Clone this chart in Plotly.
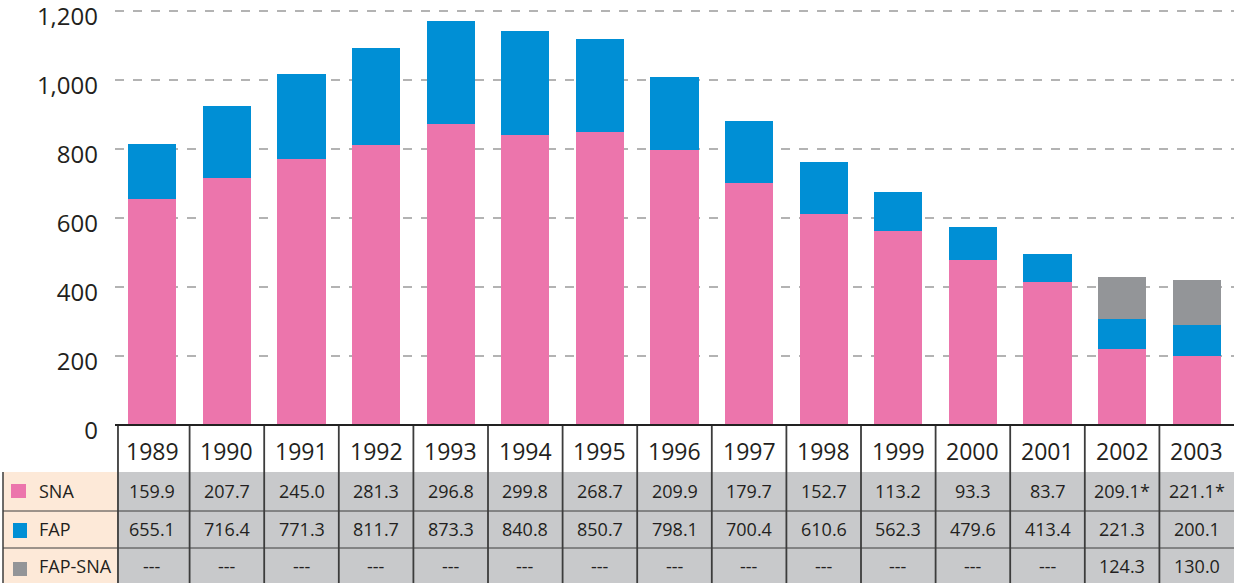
import plotly.graph_objects as go

years = ["1989", "1990", "1991", "1992", "1993", "1994", "1995", "1996",
         "1997", "1998", "1999", "2000", "2001", "2002", "2003"]
sna = [159.9, 207.7, 245.0, 281.3, 296.8, 299.8, 268.7, 209.9, 179.7, 152.7,
       113.2, 93.3, 83.7, 209.1, 221.1]
fap = [655.1, 716.4, 771.3, 811.7, 873.3, 840.8, 850.7, 798.1, 700.4, 610.6,
       562.3, 479.6, 413.4, 221.3, 200.1]
fap_sna = [None] * 13 + [124.3, 130.0]
sna_labels = ["159.9", "207.7", "245.0", "281.3", "296.8", "299.8", "268.7",
              "209.9", "179.7", "152.7", "113.2", "93.3", "83.7", "209.1*", "221.1*"]
fap_labels = ["655.1", "716.4", "771.3", "811.7", "873.3", "840.8", "850.7",
              "798.1", "700.4", "610.6", "562.3", "479.6", "413.4", "221.3", "200.1"]
fap_sna_labels = ["---"] * 13 + ["124.3", "130.0"]
row_names = ["SNA", "FAP", "FAP-SNA"]
y_ticks = [0, 200, 400, 600, 800, 1000, 1200]

PINK = "#EC75AC"
BLUE = "#008FD5"
GRAY = "#939598"
TXT = "#231F20"
CELL = "#C8C9CB"
PEACH = "#FDE9D8"
LINE = "#3C3C3C"

W, H = 1234, 583
L, R, T, B = 115, 0, 5, 158
PW, PH = W - L - R, H - T - B
Y_TOP = 1200 * PH / 414.0  # keeps 1,200 at 11 px from the top


def px(x):
    return (x - L) / PW


def py(y):
    return (H - B - y) / PH


sna_only = [s - (g or 0) for s, g in zip(sna, fap_sna)]

fig = go.Figure()
fig.add_bar(x=years, y=fap, marker_color=PINK, name="FAP", marker_line_width=0)
fig.add_bar(x=years, y=sna_only, marker_color=BLUE, name="SNA", marker_line_width=0)
fig.add_bar(x=years, y=fap_sna, marker_color=GRAY, name="FAP-SNA", marker_line_width=0)

shapes = []
ann = []
# table backgrounds
shapes.append(dict(type="rect", xref="paper", yref="paper", x0=px(118), x1=1,
                   y0=py(583), y1=py(472), fillcolor=CELL, line_width=0, layer="below"))
shapes.append(dict(type="rect", xref="paper", yref="paper", x0=px(3), x1=px(118),
                   y0=py(583), y1=py(472), fillcolor=PEACH, line_width=0, layer="below"))
# horizontal row lines
for yy in (511, 548):
    shapes.append(dict(type="line", xref="paper", yref="paper", x0=px(3), x1=1,
                       y0=py(yy), y1=py(yy), line=dict(color=LINE, width=1)))
# left border
shapes.append(dict(type="line", xref="paper", yref="paper", x0=px(3), x1=px(3),
                   y0=py(583), y1=py(472), line=dict(color=LINE, width=1.5)))
# column lines
n = len(years)
for i in range(n):
    xv = i - 0.5 if i > 0 else -0.46
    shapes.append(dict(type="line", xref="x", yref="paper", x0=xv, x1=xv,
                       y0=py(583), y1=0, line=dict(color=LINE, width=1.8)))
# zero line
shapes.append(dict(type="line", xref="paper", yref="paper", x0=0, x1=1,
                   y0=0, y1=0, line=dict(color="#222222", width=2)))

row_y = [py(491), py(529), py(566)]
for i, (yr, a, b, c) in enumerate(zip(years, sna_labels, fap_labels, fap_sna_labels)):
    ann.append(dict(x=i, xref="x", y=py(451), yref="paper", text=yr, showarrow=False,
                    font=dict(size=23, color=TXT), xanchor="center", yanchor="middle"))
    for t, yv in zip((a, b, c), row_y):
        ann.append(dict(x=i, xref="x", y=yv, yref="paper", text=t, showarrow=False,
                        font=dict(size=18, color=TXT), xanchor="center", yanchor="middle"))

sq_colors = [PINK, BLUE, GRAY]
sq_y = [(484, 498), (523, 538), (562, 576)]
sq_x = [(11, 26), (13, 27), (13, 27)]
for name, col, (y0, y1), (x0, x1), yv in zip(row_names, sq_colors, sq_y, sq_x, row_y):
    shapes.append(dict(type="rect", xref="paper", yref="paper", x0=px(x0), x1=px(x1),
                       y0=py(y1), y1=py(y0), fillcolor=col, line_width=0))
    ann.append(dict(x=px(37), xref="paper", y=yv, yref="paper", text=name, showarrow=False,
                    font=dict(size=18, color=TXT), xanchor="left", yanchor="middle"))

fig.update_layout(
    barmode="stack",
    bargap=0.356,
    width=W, height=H,
    margin=dict(l=L, r=R, t=T, b=B, pad=0),
    paper_bgcolor="white", plot_bgcolor="white",
    showlegend=False,
    font=dict(family="Open Sans", color=TXT),
    shapes=shapes,
    annotations=ann,
    xaxis=dict(type="category", showticklabels=False, showgrid=False, zeroline=False,
               showline=False, ticks="", range=[-0.5, n - 0.5]),
    yaxis=dict(range=[0, Y_TOP], tickvals=y_ticks, tickformat=",", showgrid=True,
               gridcolor="#B3B3B3", griddash="dash", gridwidth=1.5, zeroline=False,
               showline=False, ticks="", tickfont=dict(size=24, color=TXT),
               ticklabelstandoff=16, ticklabelshift=6, ticklabeloverflow="allow"),
)

fig.write_html("out.html", config={"displayModeBar": False},
               post_script="document.body.style.margin='0';")
